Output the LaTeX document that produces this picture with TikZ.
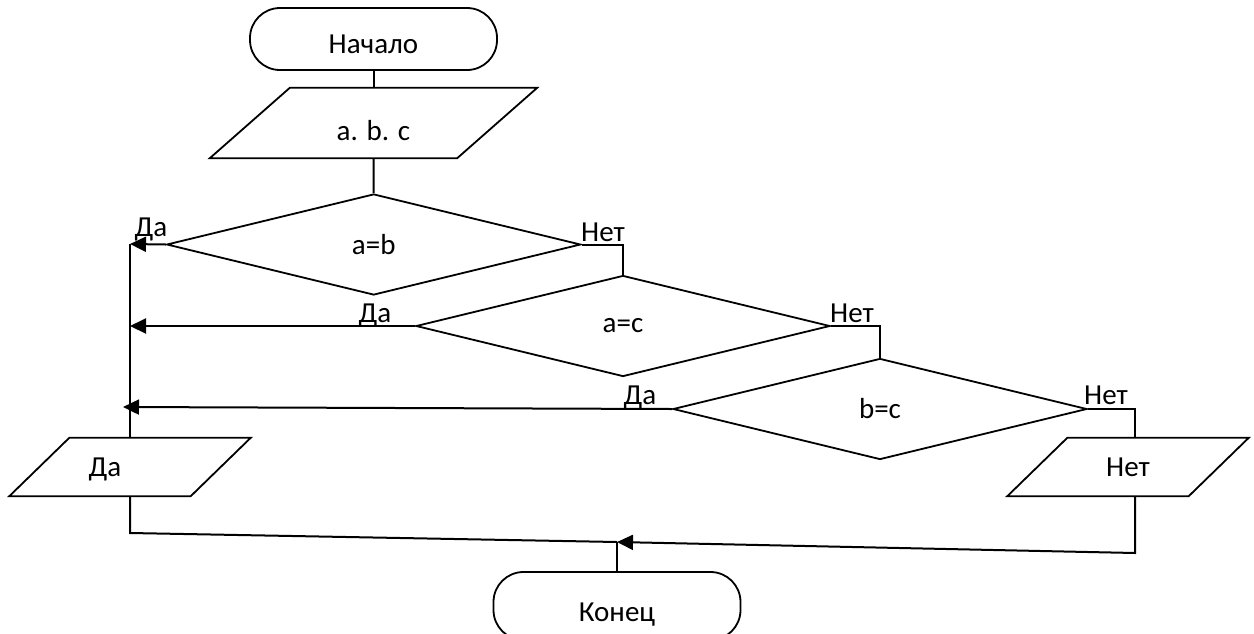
\documentclass[tikz,border=0pt]{standalone}
\usepackage{fontspec}
\setmainfont{Carlito}
\usetikzlibrary{shapes.geometric,arrows.meta,calc}
\newcommand\iopath[2]{\draw[shapeline] ($(#1.north west)+(#2,0)$) -- ($(#1.north east)+(#2,0)$) -- ($(#1.south east)-(#2,0)$) -- ($(#1.south west)-(#2,0)$) -- cycle;}
\begin{document}
\begin{tikzpicture}[x=1pt,y=-1pt,
  every node/.style={font=\fontsize{29}{34}\selectfont, inner sep=0pt},
  shapeline/.style={line width=1.8pt},
  term/.style={draw, shapeline, rounded corners=30pt, minimum width=247pt, minimum height=62pt, text height=28pt, text depth=0pt},
  cond/.style={draw, diamond, shapeline, minimum width=414pt, minimum height=101pt},
  iobox/.style={minimum width=#1, minimum height=58pt},
  flow/.style={line width=2pt},
  arr/.style={flow, -{Triangle[length=16pt,width=15pt]}}]
\useasboundingbox (0,0) rectangle (1254,633);
% terminators
\node[term] (start) at (373.5,39) {Начало};
\node[term, minimum height=68pt, text height=30pt] (end) at (617,606) {Конец};
% input
\node[minimum width=247pt, minimum height=70pt, text height=35pt, text depth=0pt] (in) at (373.5,123) {a. b. c};
\iopath{in}{40}
% decisions
\node[cond] (d1) at (373.7,244.5) {a=b};
\node[cond] (d2) at (623,326) {a=c};
\node[cond] (d3) at (880,409) {b=c};
% outputs
\node[iobox=181pt] (yes) at (130,467) {};
\iopath{yes}{30}
\node (yestxt) at (105,469) {Да};
\node[iobox=181pt] (no) at (1128,467) {Нет};
\iopath{no}{30}
% branch labels
\node (l1) at (151,229) {Да};
\node (l2) at (603,232) {Нет};
\node (l3) at (375,315) {Да};
\node (l4) at (852,313) {Нет};
\node (l5) at (640,397) {Да};
\node (l6) at (1106,395) {Нет};
% helper points
\coordinate (t1) at (130,244);
\coordinate (t2) at (130,326);
\coordinate (t3) at (123,407);
\coordinate (j) at (617,542);
\coordinate (bl) at (130,533);
\coordinate (br) at (1135,553);
% connectors
\draw[flow] (start.south) -- (in.north);
\draw[flow] (in.south) -- (d1.north);
\draw[arr] (d1.west) -- (t1);
\draw[flow] (d1.east) -| (d2.north);
\draw[arr] (d2.west) -- (t2);
\draw[flow] (d2.east) -| (d3.north);
\draw[arr] (d3.west) -- (t3);
\draw[flow] (d3.east) -| ([xshift=7pt]no.north);
\draw[flow] (t1) -- (yes.north);
\draw[flow] (yes.south) -- (bl) -- (j);
\draw[arr] ([xshift=7pt]no.south) -- (br) -- (j);
\draw[flow] (end.north) -- (j);
\end{tikzpicture}
\end{document}
